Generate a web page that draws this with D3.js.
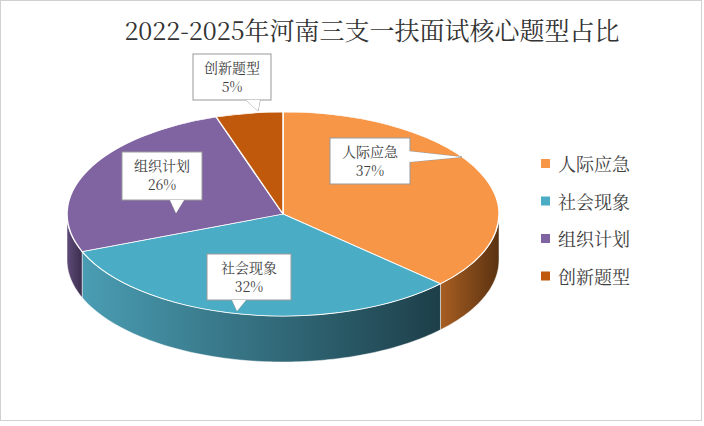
<!DOCTYPE html>
<html><head><meta charset="utf-8">
<script src="https://cdn.jsdelivr.net/npm/d3@7"></script>
<style>body{margin:0;background:#fff}</style>
</head><body>
<svg width="704" height="426"></svg>
<script>
const data = [
  {name: '人际应急', value: 37, color: '#F79646', side: ['#a85e22', '#5a3211']},
  {name: '社会现象', value: 32, color: '#4BACC6', side: ['#4a9db3', '#1d3f49']},
  {name: '组织计划', value: 26, color: '#8064A2', side: ['#5e4a78', '#3c2e4e']},
  {name: '创新题型', value: 5, color: '#C0590C', side: ['#8a3f08', '#5a2905']}
]
const labels = [
  {box: [330, 138, 80, 46], tip: [462, 157], base: [398, 150, 410, 162]},
  {box: [207, 254, 84, 46], tip: [237, 311], base: [232, 300, 246, 300]},
  {box: [122, 152, 80, 48], tip: [176, 213], base: [170, 200, 184, 200]},
  {box: [193, 54, 78, 46], tip: [258, 111], base: [246, 100, 260, 100]}
]

const svg = d3.select('svg')
svg.append('rect').attr('x', 0.5).attr('y', 0.5).attr('width', 701).attr('height', 420)
  .attr('fill', '#fff').attr('stroke', '#d0d0d0')

svg.append('text').attr('x', 372).attr('y', 40).attr('text-anchor', 'middle')
  .attr('font-family', 'Noto Serif CJK SC, Noto Sans CJK SC').attr('font-size', 25)
  .attr('fill', '#333').text('2022-2025年河南三支一扶面试核心题型占比')

const cx = 283, cy = 214, rx = 216, ry = 102, depth = 46
const pie = d3.pie().value(d => d.value).sort(null)
const arcs = pie(data)
const defs = svg.append('defs')

const px = a => cx + rx * Math.sin(a)
const py = a => cy - ry * Math.cos(a)

// side walls
arcs.forEach((d, i) => {
  const a0 = Math.max(d.startAngle, Math.PI / 2)
  const a1 = Math.min(d.endAngle, Math.PI * 1.5)
  if (a1 <= a0) return
  const g = defs.append('linearGradient').attr('id', 'sg' + i)
    .attr('gradientUnits', 'userSpaceOnUse')
    .attr('x1', px(a1)).attr('x2', px(a0)).attr('y1', 0).attr('y2', 0)
  g.append('stop').attr('offset', 0).attr('stop-color', d.data.side[0])
  g.append('stop').attr('offset', 1).attr('stop-color', d.data.side[1])
  const angs = d3.range(a0, a1, 0.02).concat([a1])
  const top = angs.map(a => [px(a), py(a)])
  const bot = angs.slice().reverse().map(a => [px(a), py(a) + depth])
  svg.append('path').attr('d', d3.line()(top.concat(bot)) + 'Z')
    .attr('fill', `url(#sg${i})`).attr('stroke', '#fff').attr('stroke-width', 0.5)
})

// top faces
const arc = d3.arc().innerRadius(0).outerRadius(rx)
svg.append('g').attr('transform', `translate(${cx},${cy}) scale(1,${ry / rx})`)
  .selectAll('path').data(arcs).enter().append('path')
  .attr('d', arc).attr('fill', d => d.data.color)
  .attr('stroke', '#fff').attr('stroke-width', 1.5)

// callouts
labels.forEach((l, i) => {
  const [x, y, w, h] = l.box
  const g = svg.append('g')
  g.append('path').attr('d', d3.line()([[l.base[0], l.base[1]], l.tip, [l.base[2], l.base[3]]]))
    .attr('fill', '#fff').attr('stroke', '#999')
  g.append('rect').attr('x', x).attr('y', y).attr('width', w).attr('height', h)
    .attr('fill', '#fff').attr('stroke', '#999')
  g.append('path').attr('d', d3.line()([[l.base[0], l.base[1]], l.tip, [l.base[2], l.base[3]]]))
    .attr('fill', '#fff').attr('stroke', 'none')
  const t = g.append('text').attr('text-anchor', 'middle').attr('font-family', 'Noto Serif CJK SC, Noto Sans CJK SC')
    .attr('font-size', 14).attr('fill', '#404040')
  t.append('tspan').attr('x', x + w / 2).attr('y', y + 19).text(data[i].name)
  t.append('tspan').attr('x', x + w / 2).attr('y', y + 38).text(data[i].value + '%')
})

// legend
const leg = svg.append('g').selectAll('g').data(data).enter().append('g')
  .attr('transform', (d, i) => `translate(541,${164 + i * 37.5})`)
leg.append('rect').attr('x', 0).attr('y', -5).attr('width', 9).attr('height', 9).attr('fill', d => d.color)
leg.append('text').attr('x', 17).attr('y', 7).attr('font-size', 18)
  .attr('font-family', 'Noto Serif CJK SC, Noto Sans CJK SC').attr('fill', '#404040').text(d => d.name)
</script>
</body></html>
